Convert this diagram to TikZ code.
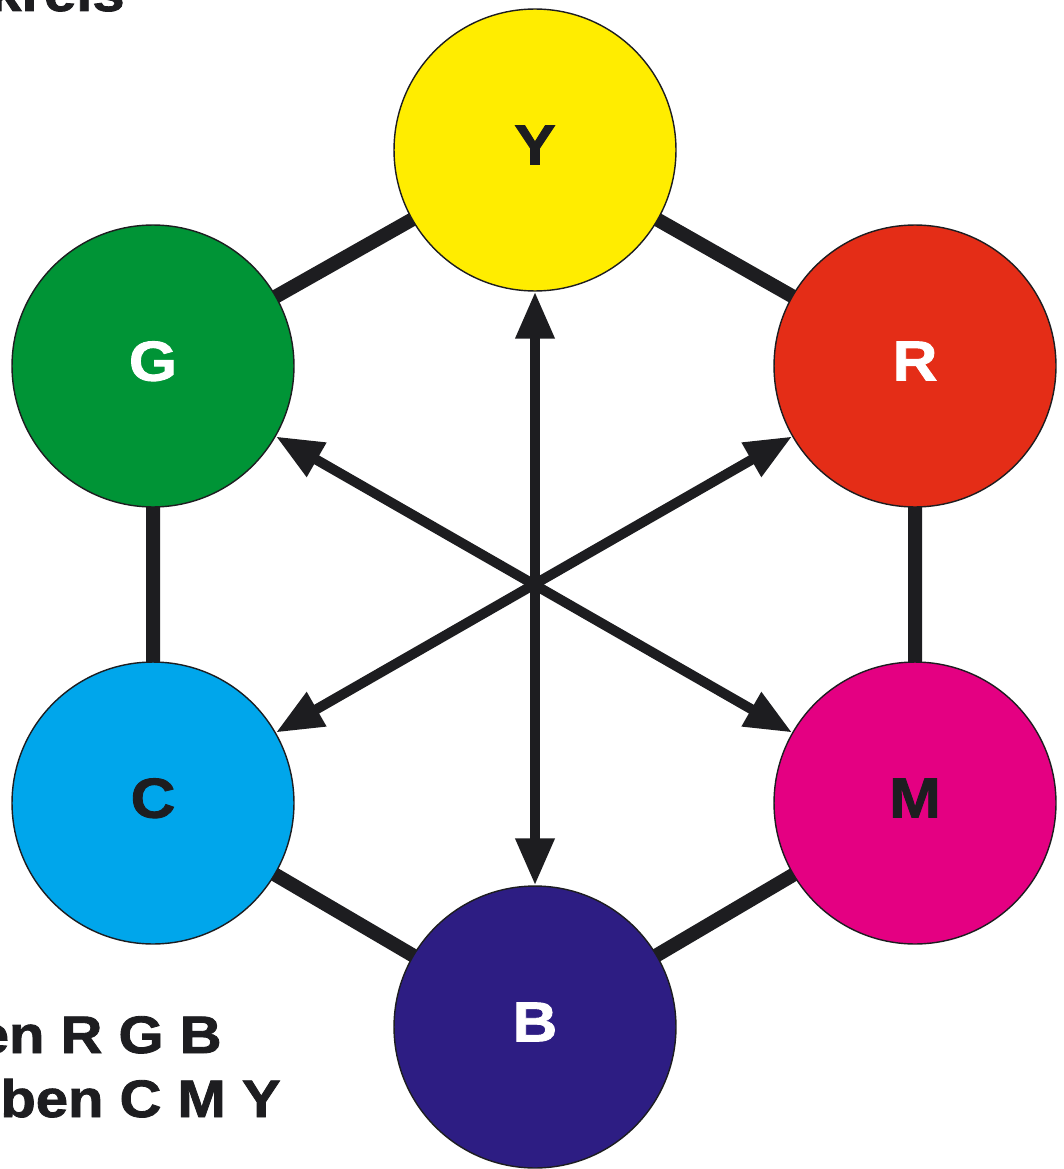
\documentclass[tikz,border=0pt]{standalone}
\usepackage{fontspec}
\setmainfont{Liberation Sans}
\newfontfamily\schwer{Liberation Sans}[FakeBold=1.6,FakeStretch=1.1]
\usetikzlibrary{arrows.meta,backgrounds}

\definecolor{dunkel}{RGB}{29,29,32}
\definecolor{gelb}{RGB}{255,237,0}
\definecolor{gruen}{RGB}{0,148,54}
\definecolor{rot}{RGB}{228,45,23}
\definecolor{cyan}{RGB}{0,166,235}
\definecolor{magenta}{RGB}{228,0,130}
\definecolor{blau}{RGB}{45,29,131}

\begin{document}
\begin{tikzpicture}[x=0.02cm,y=-0.02cm,
		farbe/.style={circle,draw=dunkel,line width=0.8pt,minimum size=5.64cm,inner sep=0pt,
			font=\fontsize{32}{32}\schwer\bfseries,text depth=0.2cm},
		kante/.style={line width=0.28cm,dunkel},
		pfeil/.style={line width=0.2cm,dunkel,
			{Triangle[length=0.94cm,width=0.74cm]}-{Triangle[length=0.94cm,width=0.74cm]}},
		titel/.style={font=\fontsize{30}{30}\schwer\bfseries,text=dunkel,inner sep=0pt}]
	\useasboundingbox (0,0) rectangle (1063,1169);
	\clip (0,0) rectangle (1063,1169);

	% circles
	\node[farbe,fill=gelb,text=dunkel] (Y) at (535,150) {Y};
	\node[farbe,fill=gruen,text=white] (G) at (153,366) {G};
	\node[farbe,fill=rot,text=white] (R) at (915,366) {R};
	\node[farbe,fill=cyan,text=dunkel] (C) at (153,803) {C};
	\node[farbe,fill=magenta,text=dunkel] (M) at (915,803) {M};
	\node[farbe,fill=blau,text=white] (B) at (535,1027) {B};

	% outer ring
	\begin{scope}[on background layer]
		\draw[kante] (Y.center) -- (R.center) -- (M.center) -- (B.center)
			-- (C.center) -- (G.center) -- (Y.center);
	\end{scope}

	% complementary pairs
	\draw[pfeil] (Y) -- (B);
	\draw[pfeil] (G) -- (M);
	\draw[pfeil] (R) -- (C);

	% labels
	\node[titel,anchor=base east] (kopf) at (125,11) {kreis};
	\node[titel,anchor=base east] (rgb) at (222,1053) {en R G B};
	\node[titel,anchor=base east] (cmy) at (281,1117) {ben C M Y};
\end{tikzpicture}
\end{document}
